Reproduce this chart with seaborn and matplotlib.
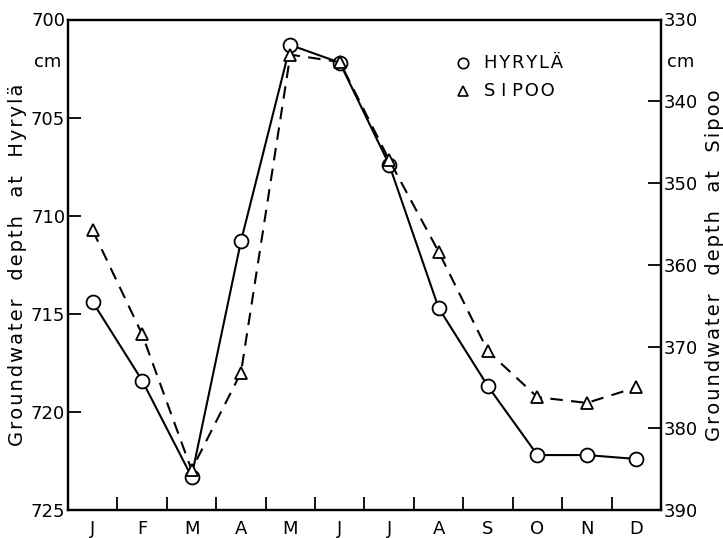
import matplotlib
matplotlib.use("Agg")
import matplotlib.pyplot as plt
import seaborn as sns
import pandas as pd
import numpy as np

months = ["J", "F", "M", "A", "M", "J", "J", "A", "S", "O", "N", "D"]
hyryla = [714.4, 718.4, 723.3, 711.3, 701.3, 702.2, 707.4, 714.7, 718.7, 722.2, 722.2, 722.4]
sipoo = [355.8, 368.5, 385.1, 373.2, 334.3, 335.2, 347.2, 358.4, 370.6, 376.2, 376.9, 375.0]
left_ticks = [700, 705, 710, 715, 720, 725]
right_ticks = [330, 340, 350, 360, 370, 380, 390]

sns.set_theme(style="white")
plt.rcParams["font.family"] = ["DejaVu Sans"]
plt.rcParams["text.color"] = "black"
plt.rcParams["axes.labelcolor"] = "black"
plt.rcParams["xtick.color"] = "black"
plt.rcParams["ytick.color"] = "black"


def spaced(s):
    return "\u200a".join(s)


df = pd.DataFrame({"pos": np.arange(len(months)), "hyryla": hyryla, "sipoo": sipoo})

fig = plt.figure(figsize=(7.23, 5.38), dpi=100)
ax = fig.add_axes([68/723, 1 - 510/538, (661 - 68)/723, (510 - 19.5)/538])
ax2 = ax.twinx()

sns.lineplot(data=df, x="pos", y="hyryla", ax=ax, color="black", lw=1.5,
             marker="o", markersize=10, markerfacecolor="white",
             markeredgecolor="black", markeredgewidth=1.3, zorder=3)
sns.lineplot(data=df, x="pos", y="sipoo", ax=ax2, color="black", lw=1.5,
             linestyle=(0, (6, 4)), marker="^", markersize=8,
             markerfacecolor="white", markeredgecolor="black",
             markeredgewidth=1.3, zorder=3)

ax.set_xlim(-0.5, 11.5)
ax.set_ylim(725, 700)
ax2.set_ylim(390, 330)

ax.set_xticks(np.arange(len(months)))
ax.set_xticklabels(months, fontsize=13)
ax.set_xticks(np.arange(0.5, 11, 1), minor=True)
ax.tick_params(axis="x", which="major", length=0, pad=7)
ax.tick_params(axis="x", which="minor", direction="in", length=9.5, width=1.3, bottom=True)

ax.set_yticks(left_ticks)
ax.set_yticklabels([str(t) for t in left_ticks], fontsize=13)
ax.tick_params(axis="y", direction="in", length=9.5, width=1.3, left=True, pad=2)
ax2.set_yticks(right_ticks)
ax2.set_yticklabels([str(t) for t in right_ticks], fontsize=13)
ax2.tick_params(axis="y", direction="in", length=9.5, width=1.3, right=True, pad=2)

for a in (ax, ax2):
    for s in a.spines.values():
        s.set_color("black")
        s.set_linewidth(1.6)

ax.set_xlabel("")
ax.set_ylabel(spaced("Groundwater  depth  at  Hyrylä"), fontsize=14, labelpad=3)
ax2.set_ylabel(spaced("Groundwater  depth  at  Sipoo"), fontsize=14, labelpad=5)

fig.text(61/723, 1 - 62/538, "cm", fontsize=13, ha="right", va="center")
fig.text(667/723, 1 - 62/538, "cm", fontsize=13, ha="left", va="center")

# legend
fig.lines.append(plt.Line2D([463/723], [1 - 63/538], marker="o", markersize=7.5,
                            markerfacecolor="white", markeredgecolor="black",
                            markeredgewidth=1.2, transform=fig.transFigure))
fig.lines.append(plt.Line2D([463/723], [1 - 91/538], marker="^", markersize=7,
                            markerfacecolor="white", markeredgecolor="black",
                            markeredgewidth=1.2, transform=fig.transFigure))
fig.text(484/723, 1 - 63/538, spaced("HYRYLÄ"), fontsize=13, ha="left", va="center")
fig.text(484/723, 1 - 91/538, "S I P\u200aO\u200aO", fontsize=13, ha="left", va="center")

fig.savefig("out.png", dpi=100)
